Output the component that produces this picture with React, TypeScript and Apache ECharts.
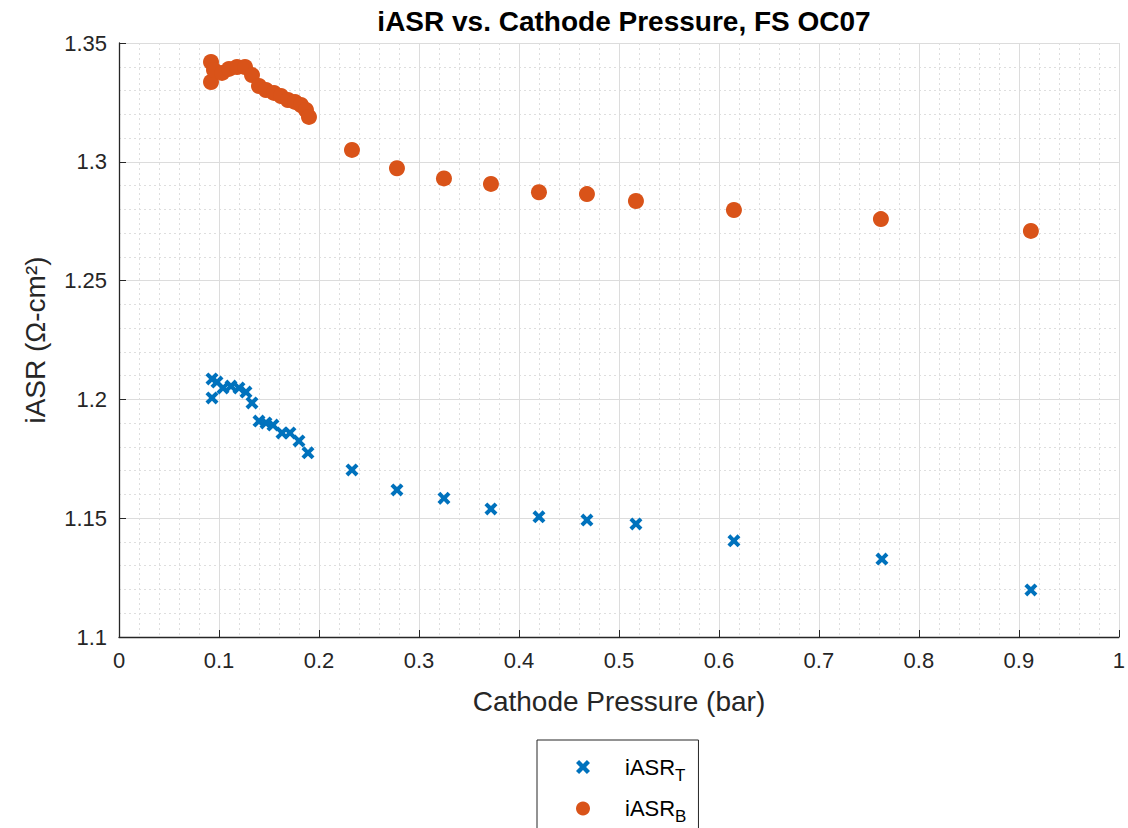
import React, { useEffect, useRef } from "react";
import * as echarts from "echarts";

const titleText = "iASR vs. Cathode Pressure, FS OC07";
const xAxisName = "Cathode Pressure (bar)";
const yAxisName = "iASR (Ω-cm²)";

const pressureT = [0.093, 0.093, 0.098, 0.104, 0.112, 0.12, 0.127, 0.133, 0.14, 0.147, 0.154, 0.163, 0.171, 0.18, 0.189, 0.233, 0.278, 0.325, 0.372, 0.42, 0.468, 0.517, 0.615, 0.763, 0.912];
const iasrT = [1.2086, 1.2006, 1.2073, 1.2048, 1.2056, 1.2048, 1.2031, 1.1985, 1.1909, 1.1901, 1.1892, 1.1859, 1.1859, 1.1825, 1.1775, 1.1703, 1.1619, 1.1584, 1.1539, 1.1506, 1.1492, 1.1476, 1.1405, 1.1328, 1.1198];

const pressureB = [0.092, 0.092, 0.095, 0.103, 0.11, 0.118, 0.126, 0.133, 0.14, 0.147, 0.155, 0.162, 0.169, 0.176, 0.182, 0.187, 0.19, 0.233, 0.278, 0.325, 0.372, 0.42, 0.468, 0.517, 0.615, 0.762, 0.912];
const iasrB = [1.342, 1.3336, 1.3386, 1.3374, 1.3391, 1.3399, 1.3399, 1.3365, 1.3319, 1.3302, 1.329, 1.3277, 1.326, 1.3252, 1.3239, 1.3218, 1.3189, 1.305, 1.2973, 1.293, 1.2907, 1.2872, 1.2864, 1.2835, 1.2797, 1.2759, 1.2709];

const seriesNames = ["iASR_T", "iASR_B"];

const crossPath =
  "path://M0,2.2 L2.2,0 L5,2.8 L7.8,0 L10,2.2 L7.2,5 L10,7.8 L7.8,10 L5,7.2 L2.2,10 L0,7.8 L2.8,5 Z";

const FONT = "'Liberation Sans', Arial, Helvetica, sans-serif";
const TXT = "#262626";

export default function App() {
  const ref = useRef<HTMLDivElement>(null);
  useEffect(() => {
    if (!ref.current) return;
    const chart = echarts.init(ref.current, undefined, { renderer: "svg" });
    const tData = pressureT.map((x, i) => [x, iasrT[i]]);
    const bData = pressureB.map((x, i) => [x, iasrB[i]]);
    chart.setOption({
      animation: false,
      backgroundColor: "#ffffff",
      textStyle: { fontFamily: FONT },
      title: {
        text: titleText,
        left: 619,
        top: 2,
        textAlign: "center",
        textStyle: { fontFamily: FONT, fontWeight: "bold", fontSize: 28, color: "#000" },
      },
      grid: { left: 119, right: 9, top: 43, bottom: 191, containLabel: false },
      xAxis: {
        type: "value",
        min: 0,
        max: 1,
        interval: 0.1,
        name: xAxisName,
        nameLocation: "middle",
        nameGap: 50,
        nameTextStyle: { fontFamily: FONT, fontSize: 28, color: TXT },
        axisLine: { show: true, onZero: false, lineStyle: { color: TXT, width: 1.3 } },
        axisTick: { show: true, inside: true, length: 7, lineStyle: { color: TXT } },
        axisLabel: { fontFamily: FONT, fontSize: 22, color: TXT, margin: 12 },
        splitLine: { show: true, lineStyle: { color: "#dcdcdc", width: 1 } },
        minorTick: { show: false, splitNumber: 5 },
        minorSplitLine: { show: true, lineStyle: { color: "#dedede", type: [2, 3], width: 1 } },
      },
      yAxis: {
        type: "value",
        min: 1.1,
        max: 1.35,
        interval: 0.05,
        name: yAxisName,
        nameLocation: "middle",
        nameGap: 70,
        nameTextStyle: { fontFamily: FONT, fontSize: 28, color: TXT },
        axisLine: { show: true, onZero: false, lineStyle: { color: TXT, width: 1.3 } },
        axisTick: { show: true, inside: true, length: 7, lineStyle: { color: TXT } },
        axisLabel: { fontFamily: FONT, fontSize: 22, color: TXT, margin: 12 },
        splitLine: { show: true, lineStyle: { color: "#dcdcdc", width: 1 } },
        minorTick: { show: false, splitNumber: 5 },
        minorSplitLine: { show: true, lineStyle: { color: "#dedede", type: [2, 3], width: 1 } },
      },
      legend: {
        orient: "vertical",
        left: 537,
        top: 740,
        height: 200,
        padding: [16, 12, 60, 39],
        itemGap: 14,
        itemWidth: 14,
        itemHeight: 14,
        backgroundColor: "#fff",
        borderColor: TXT,
        borderWidth: 1,
        borderRadius: 0,
        data: seriesNames,
        formatter: (n: string) => `{m|iASR}{s|${n.slice(-1)}}`,
        textStyle: {
          fontFamily: FONT,
          color: "#000",
          padding: [0, 0, 0, 30],
          rich: {
            m: { fontFamily: FONT, fontSize: 22, color: "#000" },
            s: { fontFamily: FONT, fontSize: 17, color: "#000", padding: [16, 0, 0, 0] },
          },
        },
      },
      series: [
        {
          name: seriesNames[0],
          type: "scatter",
          data: tData,
          symbol: crossPath,
          symbolSize: 13,
          itemStyle: { color: "#0072BD", opacity: 1 },
        },
        {
          name: seriesNames[1],
          type: "scatter",
          data: bData,
          symbol: "circle",
          symbolSize: 16,
          itemStyle: { color: "#D95319", opacity: 1 },
        },
      ],
    });
    return () => chart.dispose();
  }, []);
  return (
    <div
      ref={ref}
      style={{ position: "fixed", left: 0, top: 0, width: 1128, height: 828 }}
    />
  );
}
